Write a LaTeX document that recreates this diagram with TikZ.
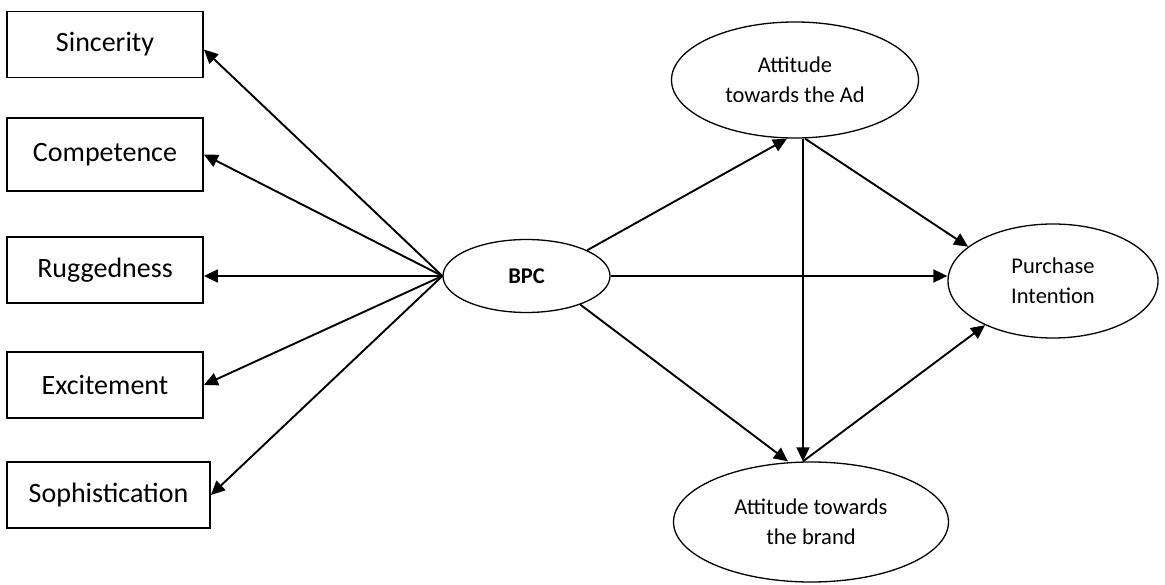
\documentclass[tikz,border=0pt]{standalone}
\usepackage{fontspec}
\setmainfont{Carlito}
\usetikzlibrary{arrows.meta,shapes.geometric}
\begin{document}
\begin{tikzpicture}[x=1pt,y=1pt,
  dimbox/.style={draw,line width=1.8pt,rectangle,inner sep=0pt,minimum height=66pt,font=\fontsize{28}{33}\selectfont},
  construct/.style={draw,line width=1.3pt,ellipse,inner sep=0pt,align=center,font=\fontsize{22.5}{30}\selectfont},
  link/.style={line width=1.9pt,-{Triangle[length=14pt,width=13pt]}}
]
\useasboundingbox (0,0) rectangle (1165,584);
% dimension boxes
\node[dimbox,minimum width=196pt] (Sinc) at (105,539.5) {Sincerity};
\node[dimbox,minimum width=196pt,minimum height=73pt] (Comp) at (105,429.5) {Competence};
\node[dimbox,minimum width=196pt] (Rug) at (105,314) {Ruggedness};
\node[dimbox,minimum width=196pt] (Exc) at (105,199) {Excitement};
\node[dimbox,minimum width=203pt] (Soph) at (108.5,89) {Sophistication};
% constructs
\node[construct,minimum width=167pt,minimum height=73pt,font=\fontsize{22.5}{30}\selectfont\bfseries] (BPC) at (526.5,308) {BPC};
\node[construct,minimum width=247pt,minimum height=116pt] (Ad) at (795,504) {Attitude\\towards the Ad};
\node[construct,minimum width=210pt,minimum height=114pt] (Pur) at (1053,303) {Purchase\\Intention};
\node[construct,minimum width=275pt,minimum height=120pt] (Brand) at (811,62) {Attitude towards\\the brand};
% BPC to dimensions
\draw[link] (BPC.west) -- ([yshift=-5pt]Sinc.east);
\draw[link] (BPC.west) -- (Comp.east);
\draw[link] (BPC.west) -- (BPC.west -| Rug.east);
\draw[link] (BPC.west) -- (Exc.east);
\draw[link] (BPC.west) -- (Soph.east);
% structural paths
\draw[link] (BPC.23) -- ([xshift=-8pt]Ad.south);
\draw[link] (BPC.east) -- (BPC.east -| Pur.west);
\draw[link] (BPC.-28) -- ([xshift=-23pt]Brand.north);
\draw[link] ([xshift=8pt]Ad.south) -- ([xshift=-8pt]Brand.north);
\draw[link] ([xshift=10pt]Ad.south) -- (Pur.158);
\draw[link] ([xshift=-8pt]Brand.north) -- (Pur.213);
\end{tikzpicture}
\end{document}
